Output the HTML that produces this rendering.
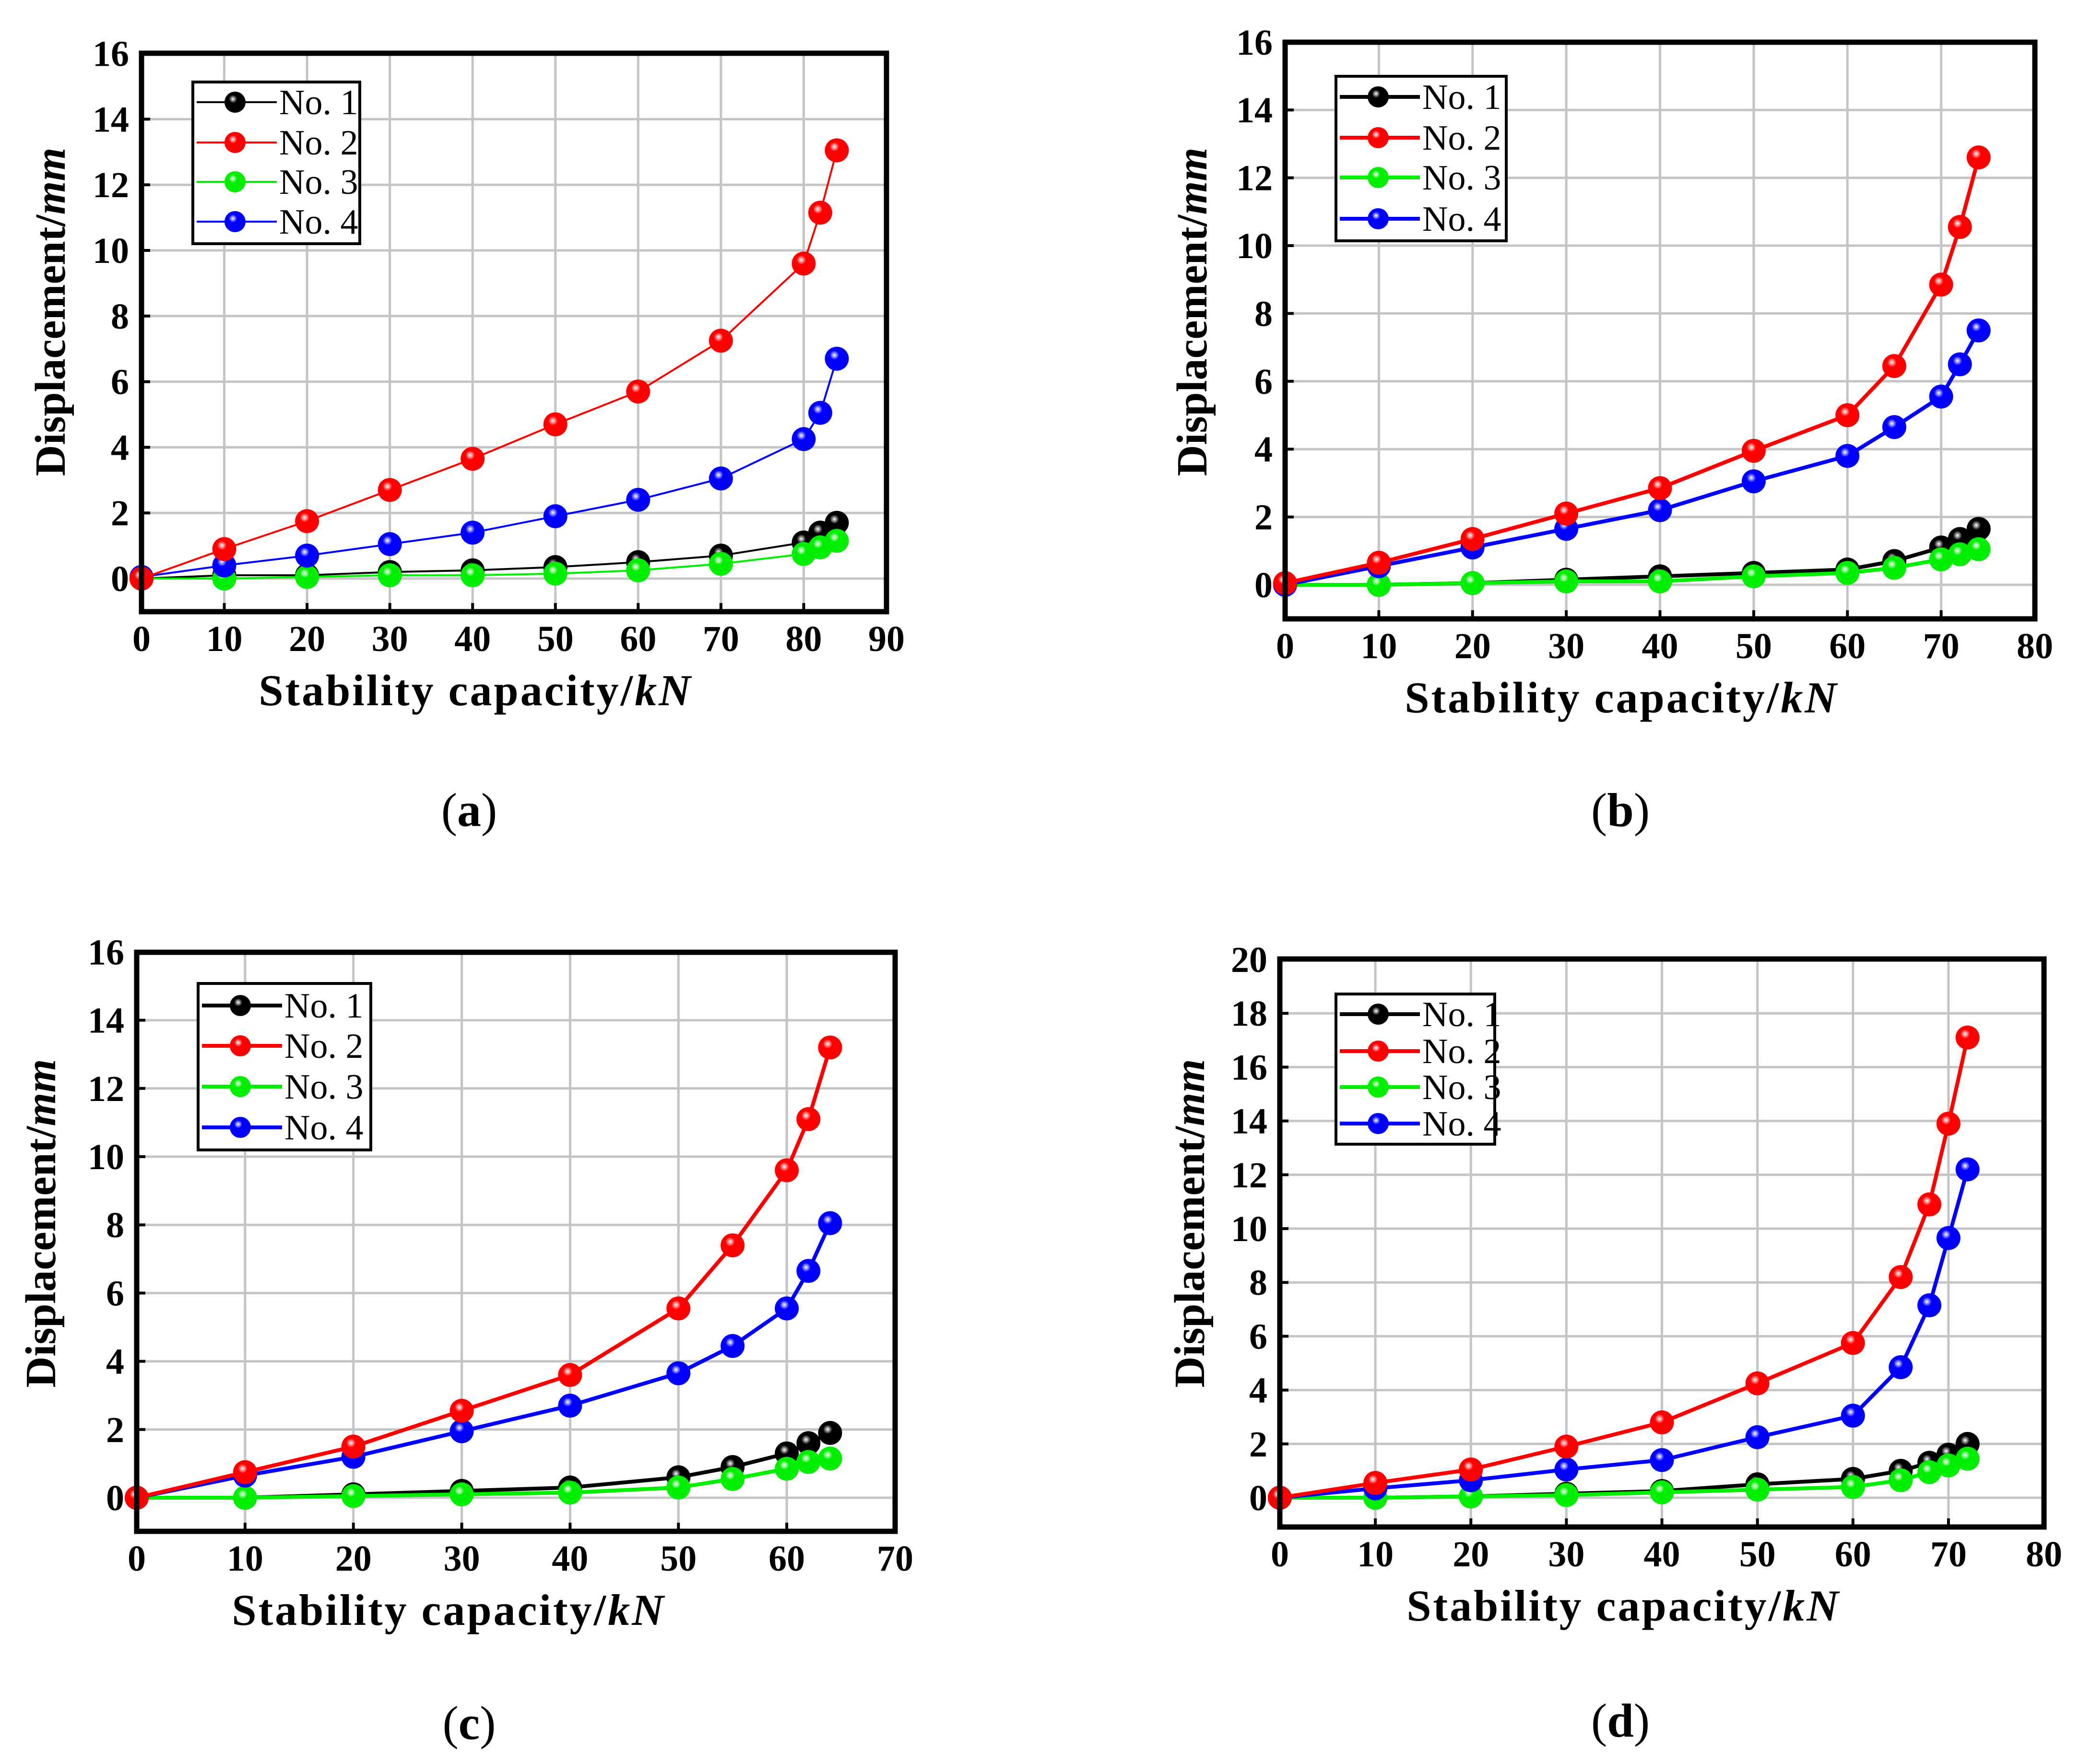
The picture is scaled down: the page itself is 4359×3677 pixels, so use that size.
<!DOCTYPE html>
<html><head><meta charset="utf-8"><style>
html,body{margin:0;padding:0;background:#fff;}
svg{display:block;}
svg text{font-family:"Liberation Serif","Times New Roman",serif;}
</style></head><body>
<svg id="root" width="4359" height="3677" viewBox="0 0 4359 3677" xmlns="http://www.w3.org/2000/svg"></svg>
<script>
// Panel (a)
const xA = [0,10,20,30,40,50,60,70,80,82,84];
const a1 = [0,0.1,0.1,0.2,0.25,0.35,0.5,0.7,1.1,1.4,1.7];
const a2 = [0,0.9,1.75,2.7,3.65,4.7,5.7,7.25,9.6,11.15,13.05];
const a3 = [0,0,0.05,0.1,0.1,0.15,0.25,0.45,0.75,0.95,1.15];
const a4 = [0.05,0.4,0.7,1.05,1.4,1.9,2.4,3.05,4.25,5.05,6.7];
const xTicksA = [0,10,20,30,40,50,60,70,80,90];
const yTicksA = [0,2,4,6,8,10,12,14,16];
// Panel (b)
const xB = [0,10,20,30,40,50,60,65,70,72,74];
const b1 = [0,0,0.05,0.15,0.25,0.35,0.45,0.7,1.1,1.35,1.65];
const b2 = [0.05,0.65,1.35,2.1,2.85,3.95,5.0,6.45,8.85,10.55,12.6];
const b3 = [0,0,0.05,0.1,0.1,0.25,0.35,0.5,0.75,0.9,1.05];
const b4 = [0,0.55,1.1,1.65,2.2,3.05,3.8,4.65,5.55,6.5,7.5];
const xTicksB = [0,10,20,30,40,50,60,70,80];
const yTicksB = [0,2,4,6,8,10,12,14,16];
// Panel (c)
const xC = [0,10,20,30,40,50,55,60,62,64];
const c1 = [0,0,0.1,0.2,0.3,0.6,0.9,1.3,1.6,1.9];
const c2 = [0,0.75,1.5,2.55,3.6,5.55,7.4,9.6,11.1,13.2];
const c3 = [0,0,0.05,0.1,0.15,0.3,0.55,0.85,1.05,1.15];
const c4 = [0,0.65,1.2,1.95,2.7,3.65,4.45,5.55,6.65,8.05];
const xTicksC = [0,10,20,30,40,50,60,70];
const yTicksC = [0,2,4,6,8,10,12,14,16];
// Panel (d)
const xD = [0,10,20,30,40,50,60,65,68,70,72];
const d1 = [0,0,0.05,0.15,0.25,0.5,0.7,1.0,1.3,1.6,2.0];
const d2 = [0,0.55,1.05,1.9,2.8,4.25,5.75,8.2,10.9,13.9,17.1];
const d3 = [0,0,0.05,0.1,0.2,0.3,0.4,0.65,0.95,1.2,1.45];
const d4 = [0,0.35,0.65,1.05,1.4,2.25,3.05,4.85,7.15,9.65,12.2];
const xTicksD = [0,10,20,30,40,50,60,70,80];
const yTicksD = [0,2,4,6,8,10,12,14,16,18,20];
const seriesNames = ["No. 1","No. 2","No. 3","No. 4"];
const seriesColors = ["#000000","#ff0000","#00ee00","#0000ff"];

const NS="http://www.w3.org/2000/svg";
const root=document.getElementById('root');
function mk(tag,attrs,parent){const e=document.createElementNS(NS,tag);for(const k in attrs)e.setAttribute(k,attrs[k]);(parent||root).appendChild(e);return e;}

const defs=mk('defs',{});
seriesColors.forEach((c,i)=>{
  const g=mk('radialGradient',{id:'grad'+i,cx:'0.4',cy:'0.35',r:'0.65'},defs);
  mk('stop',{offset:'0','stop-color':'#ffffff'},g);
  mk('stop',{offset:'0.3','stop-color':c},g);
  mk('stop',{offset:'1','stop-color':i===0?'#000':c},g);
});

function panel(cfg){
  const g=mk('g',{});
  
  
  const L=cfg.box[0],T=cfg.box[1],R=cfg.box[2],B=cfg.box[3];
  const sx=v=>L+(v-cfg.xmin)/(cfg.xmax-cfg.xmin)*(R-L);
  const sy=v=>cfg.y0-v*cfg.unit;
  const grid=mk('g',{},g);
  
  
  cfg.xt.forEach(v=>{ if(v>cfg.xmin&&v<cfg.xmax) mk('line',{x1:sx(v),x2:sx(v),y1:T,y2:B,stroke:'#c4c4c4','stroke-width':5},grid);});
  cfg.yt.forEach(v=>{ const y=sy(v); if(y>T+2&&y<B) mk('line',{x1:L,x2:R,y1:y,y2:y,stroke:'#c4c4c4','stroke-width':5},grid);});
  cfg.xt.forEach(v=>{
    const t=mk('text',{x:sx(v),y:B+82,'text-anchor':'middle','font-weight':'bold','font-size':76},g);
    
    
    t.textContent=v;
    mk('line',{x1:sx(v),x2:sx(v),y1:B,y2:B-18,stroke:'#000','stroke-width':6},g);
  });
  cfg.yt.forEach(v=>{
    const t=mk('text',{x:L-26,y:sy(v)+26,'text-anchor':'end','font-weight':'bold','font-size':76},g);
    
    
    t.textContent=v;
    mk('line',{x1:L,x2:L+18,y1:sy(v),y2:sy(v),stroke:'#000','stroke-width':6},g);
  });
  const order=[0,2,3,1];
  order.forEach(i=>{
    const ys=cfg.s[i];
    const sg=mk('g',{},g);
    
    
    const pts=cfg.x.map((xv,k)=>sx(xv)+','+sy(ys[k])).join(' ');
    mk('polyline',{points:pts,fill:'none',stroke:seriesColors[i],'stroke-width':cfg.lw},sg);
    cfg.x.forEach((xv,k)=>{
      const c=mk('circle',{cx:sx(xv),cy:sy(ys[k]),r:25,fill:'url(#grad'+i+')'},sg);
      
      
    });
  });
  const f=mk('rect',{x:L,y:T,width:R-L,height:B-T,fill:'none',stroke:'#000','stroke-width':11},g);
  
  
  const lg=mk('g',{},g);
  
  
  const lb=cfg.leg;
  mk('rect',{x:lb[0],y:lb[1],width:lb[2]-lb[0],height:lb[3]-lb[1],fill:'#fff',stroke:'#000','stroke-width':6},lg);
  cfg.legY.forEach((y,i)=>{
    const e=mk('g',{},lg);
    
    
    mk('line',{x1:lb[0]+8,x2:lb[0]+175,y1:y,y2:y,stroke:seriesColors[i],'stroke-width':cfg.lw},e);
    mk('circle',{cx:lb[0]+88,cy:y,r:22,fill:'url(#grad'+i+')'},e);
    const t=mk('text',{x:lb[0]+180,y:y+25,'font-size':74},e);
    t.textContent=seriesNames[i];
  });
  const xt=mk('text',{x:(L+R)/2+cfg.xto,y:B+195,'text-anchor':'middle','font-weight':'bold','font-size':92,'letter-spacing':4},g);
  
  
  xt.innerHTML='Stability capacity/<tspan font-style="italic">kN</tspan>';
  const yc=cfg.ytc;
  const yt=mk('text',{x:0,y:0,'text-anchor':'middle','font-weight':'bold','font-size':90,transform:'translate('+(yc[0]+30)+','+yc[1]+') rotate(-90)'},g);
  
  
  yt.innerHTML='Displacement/<tspan font-style="italic">mm</tspan>';
  const cap=mk('text',{x:cfg.cap[0],y:cfg.cap[1]+20,'text-anchor':'middle','font-size':100},g);
  
  
  cap.innerHTML='(<tspan font-weight="bold">'+cfg.id+'</tspan>)';
}

panel({id:'a',box:[295,111,1848,1275],xmin:0,xmax:90,y0:1206,unit:68.4,x:xA,s:[a1,a2,a3,a4],xt:xTicksA,yt:yTicksA,lw:4,
  leg:[402,171,750,508],legY:[213,297,379,462],xto:-80,ytc:[105,650],cap:[978,1702]});
panel({id:'b',box:[2679,88,4242,1290],xmin:0,xmax:80,y0:1219,unit:70.7,x:xB,s:[b1,b2,b3,b4],xt:xTicksB,yt:yTicksB,lw:8,
  leg:[2785,159,3140,502],legY:[202,287,370,456],xto:-80,ytc:[2485,650],cap:[3378,1702]});
panel({id:'c',box:[285,1985,1866,3192],xmin:0,xmax:70,y0:3122,unit:71.1,x:xC,s:[c1,c2,c3,c4],xt:xTicksC,yt:yTicksC,lw:8,
  leg:[413,2050,773,2397],legY:[2096,2180,2265,2350],xto:-140,ytc:[85,2550],cap:[978,3605]});
panel({id:'d',box:[2668,1999,4261,3183],xmin:0,xmax:80,y0:3122,unit:56.1,x:xD,s:[d1,d2,d3,d4],xt:xTicksD,yt:yTicksD,lw:8,
  leg:[2785,2072,3116,2385],legY:[2114,2191,2266,2342],xto:-80,ytc:[2480,2550],cap:[3378,3600]});
</script>
</body></html>
